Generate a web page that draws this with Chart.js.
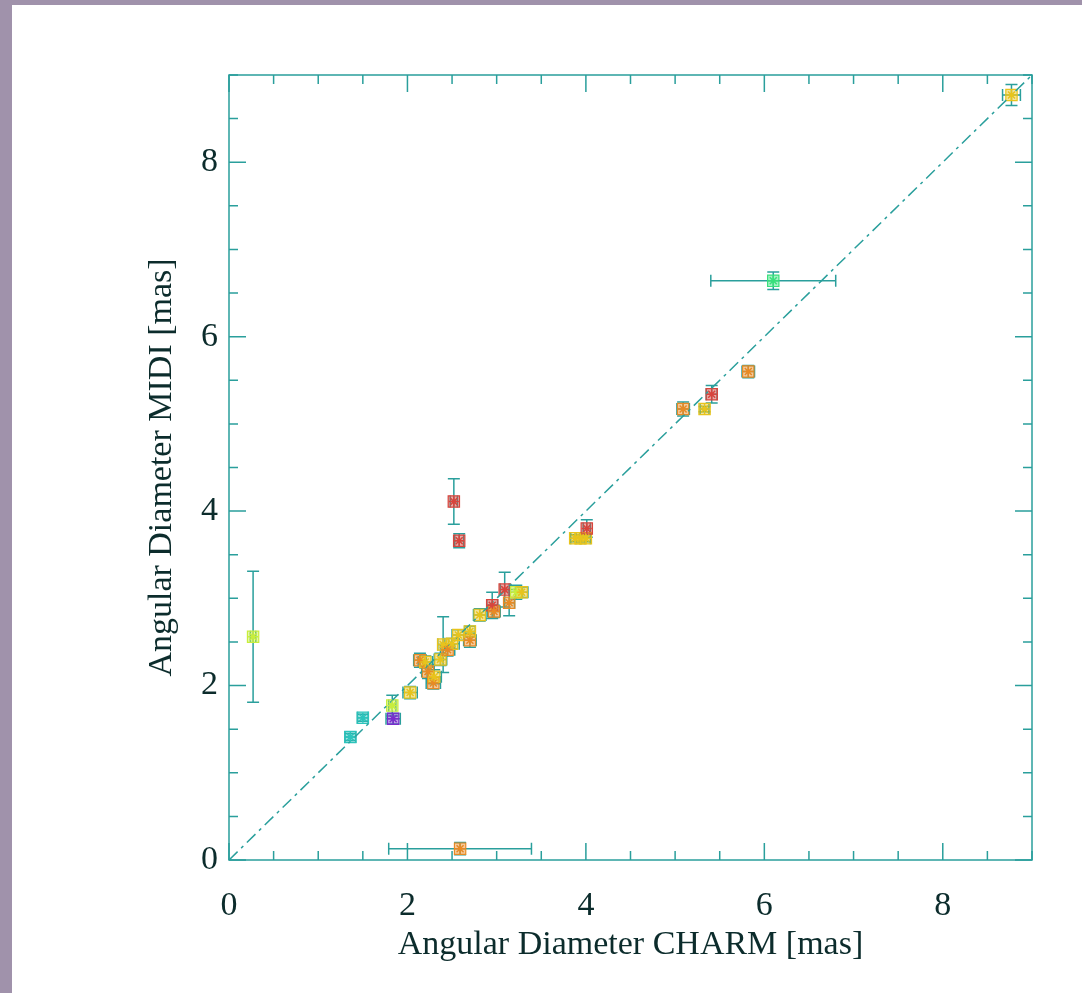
<!DOCTYPE html>
<html>
<head>
<meta charset="utf-8">
<script src="https://cdn.jsdelivr.net/npm/chart.js@4.4.1/dist/chart.umd.min.js"></script>
<style>
  html, body { margin: 0; padding: 0; background: #a092ab; overflow: hidden; }
  #wrap { position: absolute; left: 12px; top: 5px; width: 1070px; height: 988px; background: #fff; }
</style>
</head>
<body>
<div id="wrap"><canvas id="chart" width="1070" height="988"></canvas></div>
<script>
// CHARM vs MIDI angular diameters [mas]
const charmDiam = [0.27, 1.36, 1.50, 1.83, 1.84, 2.03, 2.14, 2.20, 2.23, 2.29, 2.30, 2.37, 2.40, 2.45, 2.50, 2.57,
  2.70, 2.70, 2.81, 2.95, 2.97, 3.09, 3.14, 3.22, 3.28, 2.52, 2.58, 3.88, 3.94, 4.00, 4.01, 5.09, 5.33, 5.41, 5.82,
  6.10, 8.77, 2.59];
const charmErr = [0.03, 0.06, 0.06, 0.04, 0.08, 0.08, 0.07, 0.08, 0.07, 0.08, 0.08, 0.07, 0.06, 0.08, 0.08, 0.07,
  0.07, 0.06, 0.07, 0.06, 0.07, 0.05, 0.06, 0.07, 0.07, 0.04, 0.05, 0.05, 0.05, 0.05, 0.04, 0.07, 0.05, 0.06, 0.07,
  0.70, 0.10, 0.80];
const midiDiam = [2.56, 1.41, 1.63, 1.77, 1.62, 1.92, 2.29, 2.27, 2.16, 2.03, 2.10, 2.30, 2.47, 2.41, 2.48, 2.58,
  2.52, 2.62, 2.81, 2.92, 2.85, 3.10, 2.95, 3.07, 3.07, 4.11, 3.66, 3.69, 3.69, 3.69, 3.80, 5.17, 5.17, 5.34, 5.60,
  6.64, 8.77, 0.13];
const midiErr = [0.75, 0.04, 0.04, 0.12, 0.06, 0.07, 0.08, 0.07, 0.08, 0.07, 0.08, 0.07, 0.32, 0.07, 0.06, 0.06,
  0.08, 0.06, 0.07, 0.15, 0.07, 0.20, 0.15, 0.08, 0.06, 0.26, 0.08, 0.04, 0.04, 0.04, 0.10, 0.08, 0.03, 0.10, 0.07,
  0.10, 0.12, 0.07];
const pointGroup = ['L', 'C', 'C', 'L', 'P', 'Y', 'O', 'Y', 'O', 'O', 'Y', 'Y', 'Y', 'O', 'Y', 'Y',
  'O', 'Y', 'Y', 'R', 'O', 'R', 'O', 'L', 'Y', 'R', 'R', 'Y', 'Y', 'Y', 'R', 'O', 'Y', 'R', 'O',
  'G', 'Y', 'O'];
const xTickValues = [0, 2, 4, 6, 8];
const yTickValues = [0, 2, 4, 6, 8];
const oneToOneLine = [0, 9];

const groupColors = {
  Y: '#e8c41c', O: '#e88a24', R: '#d8443c', C: '#2cc4bc', G: '#38e07c', P: '#7a2ccc', L: '#c8ee3c'
};
const axisColor = '#2a9f9c';
const textColor = '#0c2c2c';
const serif = "'Liberation Serif', 'DejaVu Serif', serif";

function hexA(hex, a) {
  const n = parseInt(hex.slice(1), 16);
  return `rgba(${n >> 16},${(n >> 8) & 255},${n & 255},${a})`;
}

// error bars under the markers, asterisks on top
const errorBars = {
  id: 'errorBars',
  beforeDatasetsDraw(chart) {
    const { ctx, scales: { x, y } } = chart;
    const cap = 6;
    ctx.save();
    ctx.strokeStyle = axisColor;
    ctx.lineWidth = 1.5;
    charmDiam.forEach((cx, i) => {
      const px = x.getPixelForValue(cx);
      const py = y.getPixelForValue(midiDiam[i]);
      const x0 = x.getPixelForValue(cx - charmErr[i]);
      const x1 = x.getPixelForValue(cx + charmErr[i]);
      const y0 = y.getPixelForValue(midiDiam[i] - midiErr[i]);
      const y1 = y.getPixelForValue(midiDiam[i] + midiErr[i]);
      ctx.beginPath();
      ctx.moveTo(x0, py); ctx.lineTo(x1, py);
      ctx.moveTo(x0, py - cap); ctx.lineTo(x0, py + cap);
      ctx.moveTo(x1, py - cap); ctx.lineTo(x1, py + cap);
      ctx.moveTo(px, y0); ctx.lineTo(px, y1);
      ctx.moveTo(px - cap, y0); ctx.lineTo(px + cap, y0);
      ctx.moveTo(px - cap, y1); ctx.lineTo(px + cap, y1);
      ctx.stroke();
    });
    ctx.restore();
  },
  afterDatasetsDraw(chart) {
    const { ctx } = chart;
    const meta = chart.getDatasetMeta(1);
    const r = 5;
    ctx.save();
    ctx.lineWidth = 1.5;
    meta.data.forEach((pt, i) => {
      ctx.strokeStyle = groupColors[pointGroup[i]];
      ctx.beginPath();
      ctx.moveTo(pt.x - r, pt.y); ctx.lineTo(pt.x + r, pt.y);
      ctx.moveTo(pt.x, pt.y - r); ctx.lineTo(pt.x, pt.y + r);
      ctx.moveTo(pt.x - r * 0.7, pt.y - r * 0.7); ctx.lineTo(pt.x + r * 0.7, pt.y + r * 0.7);
      ctx.moveTo(pt.x - r * 0.7, pt.y + r * 0.7); ctx.lineTo(pt.x + r * 0.7, pt.y - r * 0.7);
      ctx.stroke();
    });
    ctx.restore();
  }
};

// box frame with inward ticks on all four sides
const frameTicks = {
  id: 'frameTicks',
  afterDraw(chart) {
    const { ctx, chartArea: a, scales: { x, y } } = chart;
    ctx.save();
    ctx.strokeStyle = axisColor;
    ctx.lineWidth = 1.5;
    ctx.strokeRect(a.left, a.top, a.right - a.left, a.bottom - a.top);
    ctx.beginPath();
    for (let v = 0; v <= 9; v += 0.5) {
      const len = v % 2 === 0 ? 17 : 9;
      const px = x.getPixelForValue(v);
      const py = y.getPixelForValue(v);
      ctx.moveTo(px, a.bottom); ctx.lineTo(px, a.bottom - len);
      ctx.moveTo(px, a.top); ctx.lineTo(px, a.top + len);
      ctx.moveTo(a.left, py); ctx.lineTo(a.left + len, py);
      ctx.moveTo(a.right, py); ctx.lineTo(a.right - len, py);
    }
    ctx.stroke();
    ctx.restore();
  }
};

new Chart(document.getElementById('chart'), {
  type: 'scatter',
  data: {
    datasets: [
      {
        type: 'line',
        data: oneToOneLine.map(v => ({ x: v, y: v })),
        borderColor: axisColor,
        borderWidth: 1.5,
        borderDash: [12, 5, 3, 5],
        pointRadius: 0,
        fill: false
      },
      {
        data: charmDiam.map((v, i) => ({ x: v, y: midiDiam[i] })),
        pointStyle: 'rect',
        pointRadius: 8,
        pointBorderWidth: 1.2,
        pointBackgroundColor: ctx => hexA(groupColors[pointGroup[ctx.dataIndex]] || '#e8c41c', 0.45),
        pointBorderColor: ctx => groupColors[pointGroup[ctx.dataIndex]] || '#e8c41c'
      }
    ]
  },
  options: {
    responsive: false,
    animation: false,
    layout: { padding: { left: 0, right: 50, top: 70, bottom: 0 } },
    plugins: { legend: { display: false }, tooltip: { enabled: false } },
    scales: {
      x: {
        type: 'linear', min: 0, max: 9,
        grid: { display: false, drawTicks: false },
        border: { display: false },
        afterBuildTicks: s => { s.ticks = xTickValues.map(v => ({ value: v })); },
        afterFit: s => { s.height = 133; },
        ticks: { color: textColor, font: { family: serif, size: 34 }, padding: 26, maxRotation: 0 },
        title: {
          display: true, text: 'Angular Diameter CHARM [mas]', color: textColor,
          font: { family: serif, size: 34 }, padding: { top: 0, bottom: 28 }
        }
      },
      y: {
        type: 'linear', min: 0, max: 9,
        grid: { display: false, drawTicks: false },
        border: { display: false },
        afterBuildTicks: s => { s.ticks = yTickValues.map(v => ({ value: v })); },
        afterFit: s => { s.width = 217; },
        ticks: { color: textColor, font: { family: serif, size: 34 }, padding: 11 },
        title: {
          display: true, text: 'Angular Diameter MIDI [mas]', color: textColor,
          font: { family: serif, size: 34 }, padding: { top: 130, bottom: 0 }
        }
      }
    }
  },
  plugins: [errorBars, frameTicks]
});
</script>
</body>
</html>
